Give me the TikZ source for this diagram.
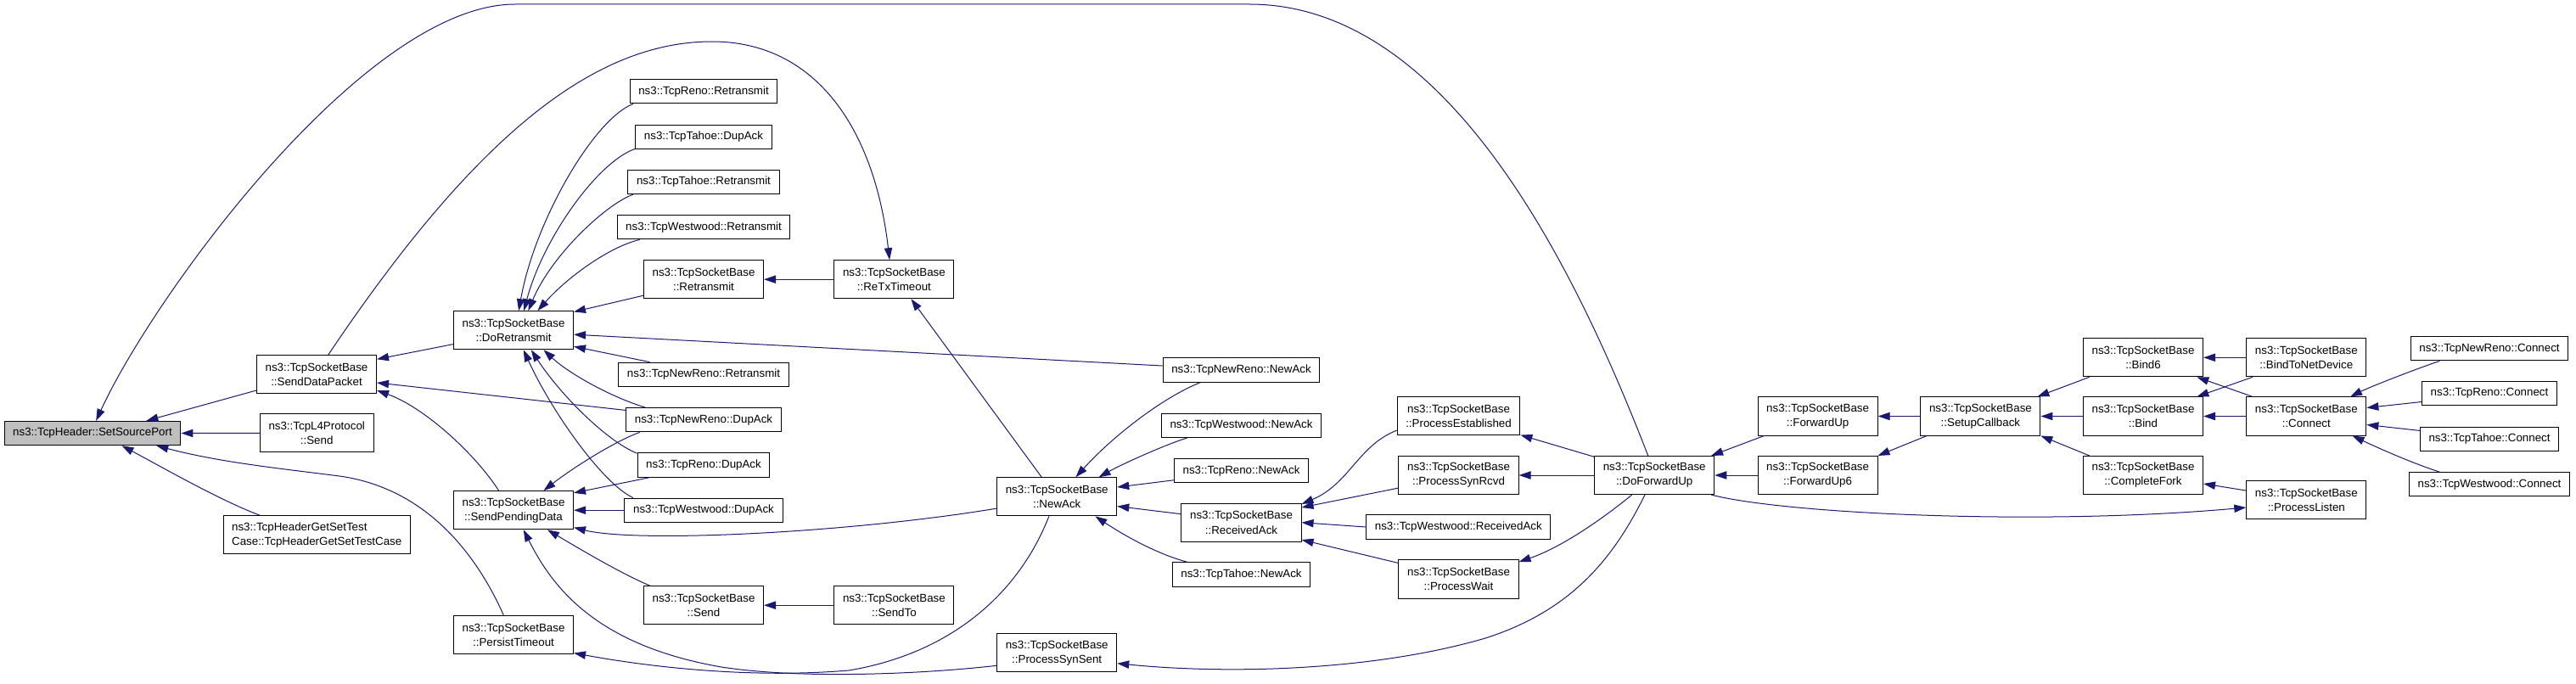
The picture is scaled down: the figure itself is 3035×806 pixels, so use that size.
\documentclass[tikz,border=0pt]{standalone}
\usepackage{fontspec}
\setmainfont{Liberation Sans}
\usepackage{tikz}
\usetikzlibrary{arrows.meta}

\definecolor{edgeblue}{HTML}{191970}
\definecolor{rootgray}{HTML}{BFBFBF}

\begin{document}
\begin{tikzpicture}
                    [
                        x=0.75pt, y=-0.75pt,
                        >={Triangle[length=10.5pt,width=7pt]},
                        every node/.style={draw=black, fill=white, line width=0.75pt,
                            inner xsep=7.6pt, inner ysep=0pt, minimum height=21.2pt,
                            align=center, font=\fontsize{10}{12.8}\selectfont},
                        twoline/.style={minimum height=33.8pt},
                        rootfn/.style={fill=rootgray},
                        callarrow/.style={draw=edgeblue, line width=0.75pt}
                    ]

                    % Rahmen
                    \useasboundingbox (0,0) rectangle (3035,806);

                    % Knoten
                    \node[rootfn] (ssp) at (109,510.5) {ns3::TcpHeader::SetSourcePort};

                    \node[twoline] (sdp) at (373,441) {ns3::TcpSocketBase\\::SendDataPacket};
                    \node[twoline] (l4send) at (373.2,510.4) {ns3::TcpL4Protocol\\::Send};
                    \node[twoline, align=left] (testcase) at (373.2,630.3) {ns3::TcpHeaderGetSetTest\\Case::TcpHeaderGetSetTestCase};

                    \node[twoline] (doretx) at (605,389.2) {ns3::TcpSocketBase\\::DoRetransmit};
                    \node[twoline] (spd) at (605,601.2) {ns3::TcpSocketBase\\::SendPendingData};
                    \node[twoline] (persist) at (605,747.8) {ns3::TcpSocketBase\\::PersistTimeout};

                    \node (renoretx) at (829,107.8) {ns3::TcpReno::Retransmit};
                    \node (tahoedup) at (829,161.2) {ns3::TcpTahoe::DupAck};
                    \node (tahoeretx) at (829,214.5) {ns3::TcpTahoe::Retransmit};
                    \node (westretx) at (829,267.8) {ns3::TcpWestwood::Retransmit};
                    \node[twoline] (tsbretx) at (829,329.2) {ns3::TcpSocketBase\\::Retransmit};
                    \node (nrretx) at (829,441.3) {ns3::TcpNewReno::Retransmit};
                    \node (nrdup) at (829,494.7) {ns3::TcpNewReno::DupAck};
                    \node (renodup) at (829,548) {ns3::TcpReno::DupAck};
                    \node (westdup) at (829,601.2) {ns3::TcpWestwood::DupAck};
                    \node[twoline] (tsbsend) at (829,713.2) {ns3::TcpSocketBase\\::Send};

                    \node[twoline] (retxto) at (1053.4,329.2) {ns3::TcpSocketBase\\::ReTxTimeout};
                    \node[twoline] (sendto) at (1053.4,713.2) {ns3::TcpSocketBase\\::SendTo};

                    \node[twoline] (newack) at (1245.2,585.3) {ns3::TcpSocketBase\\::NewAck};
                    \node[twoline] (synsent) at (1245.2,769.2) {ns3::TcpSocketBase\\::ProcessSynSent};

                    \node (nrnewack) at (1462.5,435.9) {ns3::TcpNewReno::NewAck};
                    \node (westnewack) at (1462.5,501.2) {ns3::TcpWestwood::NewAck};
                    \node (renonewack) at (1462.5,554.6) {ns3::TcpReno::NewAck};
                    \node[twoline] (rcvdack) at (1462.5,615.7) {ns3::TcpSocketBase\\::ReceivedAck};
                    \node (tahoenewack) at (1462.5,677) {ns3::TcpTahoe::NewAck};

                    \node[twoline] (established) at (1718.5,490.3) {ns3::TcpSocketBase\\::ProcessEstablished};
                    \node[twoline] (synrcvd) at (1718.5,560) {ns3::TcpSocketBase\\::ProcessSynRcvd};
                    \node (westrcvd) at (1718.3,621) {ns3::TcpWestwood::ReceivedAck};
                    \node[twoline] (pwait) at (1718.5,682.5) {ns3::TcpSocketBase\\::ProcessWait};

                    \node[twoline] (dofwd) at (1949.2,560) {ns3::TcpSocketBase\\::DoForwardUp};

                    \node[twoline] (fwdup) at (2141.6,490.5) {ns3::TcpSocketBase\\::ForwardUp};
                    \node[twoline] (fwdup6) at (2141.6,560) {ns3::TcpSocketBase\\::ForwardUp6};

                    \node[twoline] (setupcb) at (2333.4,490.5) {ns3::TcpSocketBase\\::SetupCallback};

                    \node[twoline] (bind6) at (2525,421.3) {ns3::TcpSocketBase\\::Bind6};
                    \node[twoline] (bind) at (2525,490.5) {ns3::TcpSocketBase\\::Bind};
                    \node[twoline] (completefork) at (2525,560) {ns3::TcpSocketBase\\::CompleteFork};

                    \node[twoline] (bindnet) at (2717.3,421.3) {ns3::TcpSocketBase\\::BindToNetDevice};
                    \node[twoline] (connect) at (2717.3,490.5) {ns3::TcpSocketBase\\::Connect};
                    \node[twoline] (plisten) at (2717.3,589.3) {ns3::TcpSocketBase\\::ProcessListen};

                    \node (nrconnect) at (2933,410.8) {ns3::TcpNewReno::Connect};
                    \node (renoconnect) at (2933,463.7) {ns3::TcpReno::Connect};
                    \node (tahoeconnect) at (2933,517.5) {ns3::TcpTahoe::Connect};
                    \node (westconnect) at (2933,570.8) {ns3::TcpWestwood::Connect};

                    % Aufrufe
                    \draw[callarrow,<-] (ssp.13) -- (sdp.195);
                    \draw[callarrow,<-] (ssp.east) -- (l4send.west);
                    \draw[callarrow,<-] (ssp.337) .. controls (190,550) and (260,590) .. (testcase.161);
                    \draw[callarrow,<-] (ssp.349) .. controls (260,545) and (330,552) .. (400,561)
                        .. controls (500,575) and (560,650) .. (persist.117);
                    \draw[callarrow,<-] (ssp.74) .. controls (180,350) and (430,5) .. (607,5) -- (1472,5)
                        .. controls (1700,5) and (1850,300) .. (dofwd.108);
                    \draw[callarrow,->] (sdp.59) .. controls (560,160) and (700,49) .. (839,49)
                        .. controls (960,49) and (1030,150) .. (retxto.103);

                    \draw[callarrow,<-] (sdp.14) -- (doretx.193);
                    \draw[callarrow,<-] (sdp.352) -- (nrdup.173);
                    \draw[callarrow,<-] (sdp.345) .. controls (500,480) and (560,535) .. (spd.127);

                    \draw[callarrow,<-] (doretx.75) .. controls (630,260) and (700,140) .. (renoretx.190);
                    \draw[callarrow,<-] (doretx.62) .. controls (640,280) and (705,190) .. (tahoedup.190);
                    \draw[callarrow,<-] (doretx.53) .. controls (650,300) and (715,240) .. (tahoeretx.190);
                    \draw[callarrow,<-] (doretx.39) .. controls (670,325) and (720,290) .. (westretx.191);
                    \draw[callarrow,<-] (doretx.17) -- (tsbretx.195);
                    \draw[callarrow,<-] (tsbretx.east) -- (retxto.west);
                    \draw[callarrow,<-] (doretx.356) -- (nrnewack.177);
                    \draw[callarrow,<-] (doretx.345) -- (nrretx.167);
                    \draw[callarrow,<-] (doretx.327) .. controls (670,440) and (720,468) .. (nrdup.168);
                    \draw[callarrow,<-] (doretx.312) .. controls (660,465) and (715,520) .. (renodup.170);
                    \draw[callarrow,<-] (doretx.297) .. controls (650,485) and (710,570) .. (westdup.170);

                    \draw[callarrow,<-] (spd.33) .. controls (670,555) and (720,522) .. (nrdup.191);
                    \draw[callarrow,<-] (spd.16) -- (renodup.193);
                    \draw[callarrow,<-] (spd.east) -- (westdup.west);
                    \draw[callarrow,<-] (spd.344) .. controls (750,640) and (1000,628) .. (newack.191);
                    \draw[callarrow,<-] (spd.330) .. controls (680,645) and (730,675) .. (tsbsend.160);
                    \draw[callarrow,<-] (tsbsend.east) -- (sendto.west);
                    \draw[callarrow,<-] (spd.297) .. controls (650,690) and (700,760) .. (850,786)
                        .. controls (940,800) and (1080,795) .. (synsent.192);
                    \draw[callarrow,<-] (persist.343) .. controls (760,785) and (880,800) .. (1000,790)
                        .. controls (1120,770) and (1200,700) .. (newack.248);

                    \draw[callarrow,<-] (retxto.311) -- (newack.128);
                    \draw[callarrow,<-] (newack.46) .. controls (1310,515) and (1370,468) .. (nrnewack.197);
                    \draw[callarrow,<-] (newack.25) .. controls (1320,548) and (1370,525) .. (westnewack.193);
                    \draw[callarrow,<-] (newack.9) -- (renonewack.188);
                    \draw[callarrow,<-] (newack.351) -- (rcvdack.172);
                    \draw[callarrow,<-] (newack.333) .. controls (1320,628) and (1360,652) .. (tahoenewack.167);

                    \draw[callarrow,<-] (rcvdack.17) .. controls (1590,570) and (1600,525) .. (established.193);
                    \draw[callarrow,<-] (rcvdack.14) -- (synrcvd.192);
                    \draw[callarrow,<-] (rcvdack.east) -- (westrcvd.west);
                    \draw[callarrow,<-] (rcvdack.344) -- (pwait.165);

                    \draw[callarrow,<-] (established.343) -- (dofwd.163);
                    \draw[callarrow,<-] (synrcvd.east) -- (dofwd.west);
                    \draw[callarrow,<-] (pwait.16) .. controls (1840,645) and (1890,610) .. (dofwd.221);
                    \draw[callarrow,<-] (synsent.350) .. controls (1450,795) and (1620,790) .. (1750,752)
                        .. controls (1850,720) and (1900,660) .. (dofwd.244);

                    \draw[callarrow,<-] (dofwd.19) -- (fwdup.200);
                    \draw[callarrow,<-] (dofwd.east) -- (fwdup6.west);
                    \draw[callarrow,->] (dofwd.341) .. controls (2100,605) and (2400,620) .. (plisten.187);

                    \draw[callarrow,<-] (fwdup.east) -- (setupcb.west);
                    \draw[callarrow,<-] (fwdup6.18) -- (setupcb.200);
                    \draw[callarrow,<-] (setupcb.19) -- (bind6.200);
                    \draw[callarrow,<-] (setupcb.east) -- (bind.west);
                    \draw[callarrow,<-] (setupcb.342) -- (completefork.160);

                    \draw[callarrow,<-] (bind6.east) -- (bindnet.west);
                    \draw[callarrow,<-] (bind6.340) -- (connect.160);
                    \draw[callarrow,<-] (bind.20) -- (bindnet.200);
                    \draw[callarrow,<-] (bind.east) -- (connect.west);
                    \draw[callarrow,<-] (completefork.352) -- (plisten.171);

                    \draw[callarrow,<-] (connect.24) .. controls (2790,457) and (2840,437) .. (nrconnect.194);
                    \draw[callarrow,<-] (connect.8) -- (renoconnect.187);
                    \draw[callarrow,<-] (connect.352) -- (tahoeconnect.173);
                    \draw[callarrow,<-] (connect.337) .. controls (2800,527) and (2840,545) .. (westconnect.166);
                \end{tikzpicture}
\end{document}
